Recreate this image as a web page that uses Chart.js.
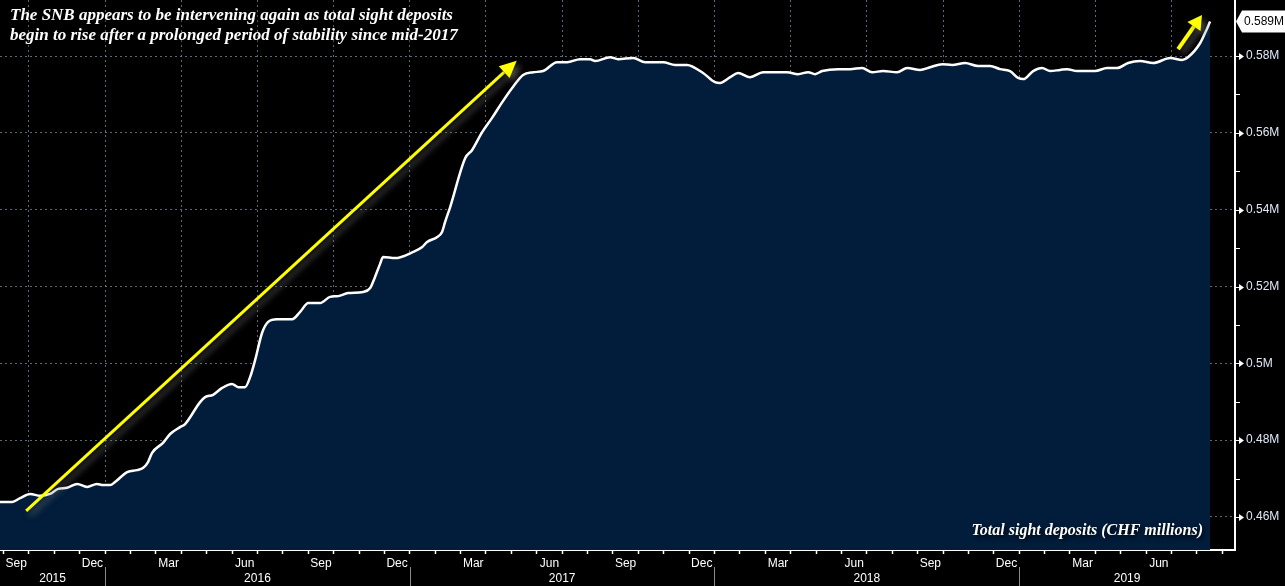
<!DOCTYPE html>
<html>
<head>
<meta charset="utf-8">
<script src="https://cdn.jsdelivr.net/npm/chart.js@4.4.1/dist/chart.umd.min.js"></script>
<style>
  html, body { margin: 0; padding: 0; background: #000; }
  #wrap { width: 1285px; height: 586px; }
</style>
</head>
<body>
<div id="wrap"><canvas id="chart" width="1285" height="586"></canvas></div>
<script>
// x = months since 1 Jan 2016, y = total sight deposits in CHF millions
const monthPos = [
  -4.14, -3.66, -3.35, -2.95, -2.56, -2.17, -1.85, -1.50, -1.10, -0.71, -0.32, -0.08,
  0.20, 0.39, 0.87, 1.26, 1.50, 1.69, 1.85, 2.28, 2.56, 2.95, 3.15, 3.74, 3.94,
  4.25, 4.61, 5.00, 5.24, 5.51, 5.71, 5.91, 6.18, 6.42, 6.77, 7.37, 7.68, 8.00,
  8.47, 8.86, 9.18, 9.57, 10.16, 10.44, 10.63, 10.83, 10.95, 11.42, 12.13, 12.49,
  12.68, 13.08, 13.27, 13.39, 13.59, 14.18, 14.45, 14.85, 15.24, 15.64, 16.03,
  16.46, 16.86, 17.25, 17.80, 18.20, 18.71, 19.10, 19.30, 19.89, 20.20, 20.80,
  21.27, 21.98, 22.45, 22.92, 23.55, 24.02, 24.22, 24.62, 24.93, 25.40, 25.92,
  26.86, 27.29, 27.69, 27.96, 28.24, 28.87, 29.34, 29.81, 30.21, 30.64, 31.19,
  31.59, 32.10, 32.49, 32.97, 33.36, 33.87, 34.38, 34.86, 35.25, 35.64, 35.96,
  36.16, 36.55, 36.90, 37.22, 37.61, 37.89, 38.28, 38.99, 39.46, 39.86, 40.29,
  40.76, 41.28, 41.95, 42.42, 42.65, 43.13, 43.32, 43.52
];
const deposits = [
  463900, 463900, 464900, 466000, 465500, 466000, 467300, 467600, 468600, 467800, 468600, 468300,
  468300, 469100, 471700, 472200, 472800, 474300, 476700, 479300, 481600, 483400, 484200, 489900, 491200,
  491800, 493600, 494600, 493800, 493800, 496400, 500900, 507900, 510800, 511500, 511500, 513400, 515700,
  515700, 517300, 517500, 518300, 518600, 519600, 522500, 525900, 527700, 527400, 529000, 530300,
  531600, 532900, 534200, 536800, 540700, 553400, 555500, 560200, 563900, 568000, 571700,
  575100, 575800, 576100, 578400, 578400, 579200, 579200, 578700, 579700, 579200, 579500,
  578400, 578400, 577700, 577700, 575600, 573200, 573000, 574500, 575600, 574500, 575800,
  575800, 575300, 575800, 575300, 576100, 576600, 576600, 576900, 575800, 576100, 575800,
  576900, 576400, 577100, 577900, 577700, 578200, 577400, 577400, 576600, 576100, 574300,
  574000, 576100, 576900, 576100, 576400, 576600, 576100, 576100, 576900, 576900, 578200,
  578700, 578200, 579500, 579000, 579700, 583400, 586000, 589000
];
const yTicks = [460000, 480000, 500000, 520000, 540000, 560000, 580000];
const yMinor = [470000, 490000, 510000, 530000, 550000, 570000];
const quarterNames = ['Dec', 'Mar', 'Jun', 'Sep'];
const years = [2015, 2016, 2017, 2018, 2019];
const xMin = -4.14, xMax = 44.5;
const yMin = 451400, yMax = 594600;

const titleLines = [
  'The SNB appears to be intervening again as total sight deposits',
  'begin to rise after a prolonged period of stability since mid-2017'
];
const footer = 'Total sight deposits (CHF millions)';
const lastLabel = '0.589M';
// arrows in data coordinates [month, value]
const bigArrow = [[-3.11, 461600], [16.21, 578800]];
const smallArrow = [[42.26, 581800], [43.20, 590700]];

const GRID = 'rgba(125,140,160,0.75)';
const AXIS_FONT = { family: 'Liberation Sans', size: 12 };

const monthTicks = [];
for (let k = -4; k <= 44; k++) monthTicks.push(k);

function arrow(ctx, x0, y0, x1, y1, w, head, half) {
  const ang = Math.atan2(y1 - y0, x1 - x0);
  const bx = x1 - head * Math.cos(ang), by = y1 - head * Math.sin(ang);
  ctx.lineWidth = w;
  ctx.beginPath();
  ctx.moveTo(x0, y0);
  ctx.lineTo(bx, by);
  ctx.stroke();
  ctx.beginPath();
  ctx.moveTo(x1, y1);
  ctx.lineTo(bx + half * Math.sin(ang), by - half * Math.cos(ang));
  ctx.lineTo(bx - half * Math.sin(ang), by + half * Math.cos(ang));
  ctx.closePath();
  ctx.fill();
}

function noPad(s) {
  s.paddingTop = 0; s.paddingBottom = 0;
  s.paddingLeft = 0; s.paddingRight = 0;
}

const decor = {
  id: 'decor',
  afterDraw(chart) {
    const { ctx, chartArea: a, scales: { x, y } } = chart;
    ctx.save();

    // y-axis markers
    ctx.fillStyle = '#fff';
    ctx.strokeStyle = '#fff';
    ctx.lineWidth = 1;
    yTicks.forEach(v => {
      const py = Math.round(y.getPixelForValue(v)) + 0.5;
      ctx.beginPath();
      ctx.moveTo(a.right, py); ctx.lineTo(a.right + 5, py); ctx.stroke();
      ctx.beginPath();
      ctx.moveTo(a.right + 4, py - 3.5);
      ctx.lineTo(a.right + 9, py);
      ctx.lineTo(a.right + 4, py + 3.5);
      ctx.closePath(); ctx.fill();
    });
    yMinor.forEach(v => {
      const py = Math.round(y.getPixelForValue(v)) + 0.5;
      ctx.beginPath();
      ctx.moveTo(a.right, py); ctx.lineTo(a.right + 5, py); ctx.stroke();
    });

    // last value tag
    const ly = y.getPixelForValue(deposits[deposits.length - 1]);
    ctx.fillStyle = '#fff';
    ctx.beginPath();
    ctx.moveTo(a.right + 1, ly);
    ctx.lineTo(a.right + 7, ly - 11);
    ctx.lineTo(1290, ly - 11);
    ctx.lineTo(1290, ly + 11);
    ctx.lineTo(a.right + 7, ly + 11);
    ctx.closePath();
    ctx.fill();
    ctx.fillStyle = '#000';
    ctx.font = '12px "Liberation Sans"';
    ctx.textAlign = 'left';
    ctx.textBaseline = 'middle';
    ctx.fillText(lastLabel, a.right + 9, ly + 0.5);

    // year row
    ctx.fillStyle = '#fff';
    ctx.textAlign = 'center';
    ctx.textBaseline = 'alphabetic';
    ctx.font = '12px "Liberation Sans"';
    years.forEach(yr => {
      const s = Math.max(xMin, (yr - 2016) * 12);
      const e = Math.min(xMax, (yr - 2015) * 12);
      ctx.fillText(String(yr), (x.getPixelForValue(s) + x.getPixelForValue(e)) / 2, 582);
      if (yr > 2015) {
        const px = Math.round(x.getPixelForValue(s)) + 0.5;
        ctx.strokeStyle = '#8a8a8a';
        ctx.beginPath(); ctx.moveTo(px, 567); ctx.lineTo(px, 586); ctx.stroke();
      }
    });

    // yellow arrows
    ctx.strokeStyle = '#ffff00';
    ctx.fillStyle = '#ffff00';
    ctx.shadowColor = 'rgba(110,110,110,0.7)';
    ctx.shadowBlur = 6;
    ctx.shadowOffsetX = 4;
    ctx.shadowOffsetY = 4;
    const p = pt => [x.getPixelForValue(pt[0]), y.getPixelForValue(pt[1])];
    let s0 = p(bigArrow[0]), s1 = p(bigArrow[1]);
    arrow(ctx, s0[0], s0[1], s1[0], s1[1], 3, 17, 8);
    s0 = p(smallArrow[0]); s1 = p(smallArrow[1]);
    arrow(ctx, s0[0], s0[1], s1[0], s1[1], 4, 14, 8);

    // texts
    ctx.shadowColor = 'rgba(0,0,0,0.95)';
    ctx.shadowBlur = 5;
    ctx.shadowOffsetX = 2;
    ctx.shadowOffsetY = 2;
    ctx.fillStyle = '#fff';
    ctx.font = 'italic bold 17px "Liberation Serif"';
    ctx.textAlign = 'left';
    ctx.fillText(titleLines[0], 10, 20);
    ctx.fillText(titleLines[1], 10, 40);
    ctx.font = 'italic bold 16px "Liberation Serif"';
    ctx.textAlign = 'right';
    ctx.fillText(footer, 1203, 535);

    ctx.restore();
  }
};

new Chart(document.getElementById('chart'), {
  type: 'line',
  data: {
    datasets: [{
      data: monthPos.map((m, i) => ({ x: m, y: deposits[i] })),
      borderColor: '#ffffff',
      borderWidth: 2.5,
      backgroundColor: '#021d3b',
      fill: 'start',
      pointRadius: 0,
      cubicInterpolationMode: 'monotone'
    }]
  },
  options: {
    responsive: false,
    devicePixelRatio: 1,
    animation: false,
    layout: { padding: 0 },
    plugins: { legend: { display: false }, tooltip: { enabled: false } },
    scales: {
      x: {
        type: 'linear',
        position: 'bottom',
        min: xMin,
        max: xMax,
        z: 1,
        afterBuildTicks: s => { s.ticks = monthTicks.map(v => ({ value: v })); },
        afterFit: s => { s.height = 36; noPad(s); },
        grid: {
          color: c => (c.tick && c.tick.value % 3 === 0) ? GRID : 'transparent',
          lineWidth: 1,
          drawTicks: true,
          tickLength: 4,
          tickColor: '#ffffff',
          tickWidth: 1.5
        },
        border: { display: true, color: '#ffffff', width: 2, dash: [2, 3] },
        ticks: {
          autoSkip: false,
          maxRotation: 0,
          color: '#ffffff',
          font: AXIS_FONT,
          padding: 2,
          labelOffset: -12.7,
          callback: v => (v % 3 === 0) ? quarterNames[((v / 3) % 4 + 4) % 4] : ''
        }
      },
      y: {
        type: 'linear',
        position: 'right',
        min: yMin,
        max: yMax,
        z: 1,
        afterBuildTicks: s => { s.ticks = yTicks.map(v => ({ value: v })); },
        afterFit: s => { s.width = 50; noPad(s); },
        grid: { color: GRID, lineWidth: 1, drawTicks: false },
        border: { display: true, color: '#ffffff', width: 2, dash: [2, 3] },
        ticks: {
          color: '#dfe9fa',
          font: AXIS_FONT,
          padding: 11,
          callback: v => String(+(v / 1e6).toFixed(2)) + 'M'
        }
      }
    }
  },
  plugins: [decor]
});
</script>
</body>
</html>
